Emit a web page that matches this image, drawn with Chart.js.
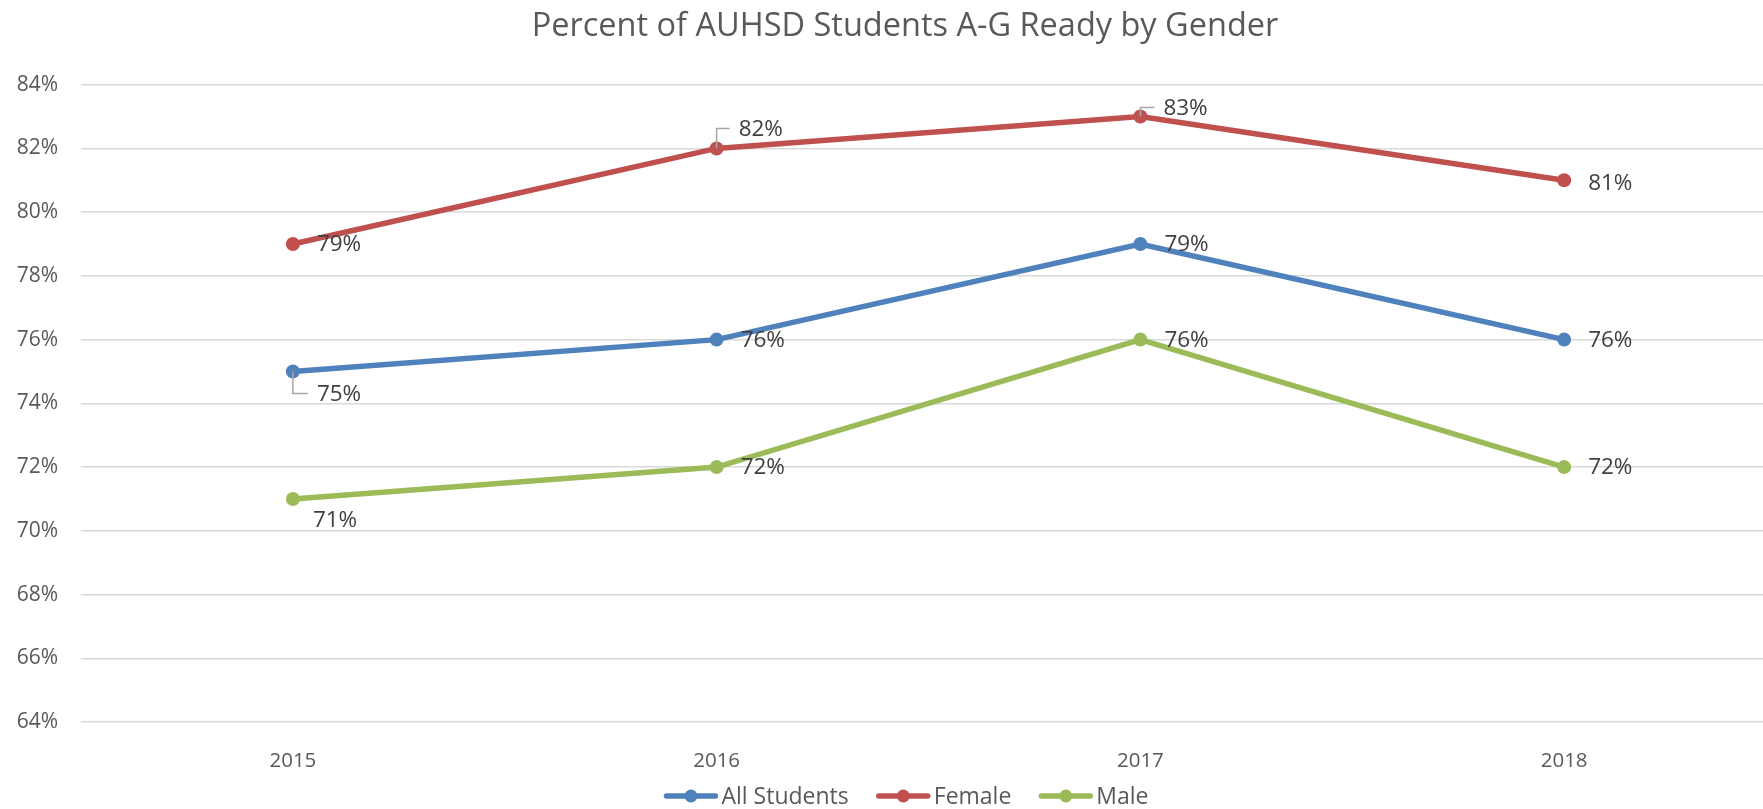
<!DOCTYPE html>
<html>
<head>
<meta charset="utf-8">
<title>Percent of AUHSD Students A-G Ready by Gender</title>
<script src="https://cdn.jsdelivr.net/npm/chart.js@4.4.1/dist/chart.umd.min.js"></script>
<style>
    html, body { margin: 0; padding: 0; background: #fff; overflow: hidden; }
    #wrap { width: 1810px; height: 809px; }
</style>
</head>
<body>
<div id="wrap"><canvas id="agChart" width="1810" height="809"></canvas></div>
<script>
// Chart data
const years = ['2015', '2016', '2017', '2018'];
const allStudents = [75, 76, 79, 76];
const female = [79, 82, 83, 81];
const male = [71, 72, 76, 72];
const yTicks = [64, 66, 68, 70, 72, 74, 76, 78, 80, 82, 84];
const chartTitle = 'Percent of AUHSD Students A-G Ready by Gender';

const FONT = '"Open Sans", "DejaVu Sans", sans-serif';
// the original Excel chart is a bit wider than the picture, so title and legend centre here
const CENTER_X = 905;

// Label left edge / vertical offset from its point (some dragged with leader lines, like in Excel)
const labelPlacement = [
    [{dx: 24, dy: 22, leader: true}, {dx: 24, dy: 0}, {dx: 24, dy: 0}, {dx: 24, dy: 0}],
    [{dx: 24, dy: 0}, {dx: 22, dy: -20, leader: true}, {dx: 23, dy: -9, leader: true}, {dx: 24, dy: 2}],
    [{dx: 20, dy: 21}, {dx: 24, dy: 0}, {dx: 24, dy: 0}, {dx: 24, dy: 0}]
];

const titlePlugin = {
    id: 'centerTitle',
    afterDraw(chart) {
        const ctx = chart.ctx;
        ctx.save();
        ctx.font = '32.5px ' + FONT;
        ctx.fillStyle = '#595959';
        ctx.textAlign = 'center';
        ctx.textBaseline = 'middle';
        ctx.fillText(chartTitle, CENTER_X, 26.5);
        ctx.restore();
    }
};

const dataLabels = {
    id: 'dataLabels',
    afterDatasetsDraw(chart) {
        const ctx = chart.ctx;
        ctx.save();
        ctx.font = '22.5px ' + FONT;
        ctx.textAlign = 'left';
        ctx.textBaseline = 'middle';
        chart.data.datasets.forEach((ds, di) => {
            const meta = chart.getDatasetMeta(di);
            meta.data.forEach((pt, i) => {
                const place = labelPlacement[di][i];
                const text = ds.data[i] + '%';
                const lx = pt.x + place.dx;
                const ly = pt.y + place.dy;
                if (place.leader) {
                    ctx.strokeStyle = '#a6a6a6';
                    ctx.lineWidth = 1.5;
                    ctx.beginPath();
                    ctx.moveTo(pt.x, pt.y);
                    ctx.lineTo(pt.x, ly);
                    ctx.lineTo(lx - 9, ly);
                    ctx.stroke();
                }
                ctx.fillStyle = '#404040';
                ctx.fillText(text, lx, ly + 1);
            });
        });
        ctx.restore();
    }
};

// Legend drawn like Excel: short line with a dot in the middle
const lineLegend = {
    id: 'lineLegend',
    afterDraw(chart) {
        const ctx = chart.ctx;
        const y = 796;
        const markW = 55, gapText = 3, gapItem = 27;
        ctx.save();
        ctx.font = '23px ' + FONT;
        ctx.textBaseline = 'middle';
        const items = chart.data.datasets.map(ds => ({
            label: ds.label,
            color: ds.borderColor,
            w: markW + gapText + ctx.measureText(ds.label).width
        }));
        const total = items.reduce((s, it) => s + it.w, 0) + gapItem * (items.length - 1);
        let x = CENTER_X + 1 - total / 2;
        items.forEach(it => {
            ctx.strokeStyle = it.color;
            ctx.lineWidth = 5.5;
            ctx.lineCap = 'round';
            ctx.beginPath();
            ctx.moveTo(x + 3, y);
            ctx.lineTo(x + markW - 3, y);
            ctx.stroke();
            ctx.fillStyle = it.color;
            ctx.beginPath();
            ctx.arc(x + markW / 2, y, 6.5, 0, Math.PI * 2);
            ctx.fill();
            ctx.fillStyle = '#595959';
            ctx.fillText(it.label, x + markW + gapText, y + 1);
            x += it.w + gapItem;
        });
        ctx.restore();
    }
};

function series(label, values, color) {
    return {
        label: label,
        data: values,
        borderColor: color,
        backgroundColor: color,
        borderWidth: 5.5,
        pointRadius: 7,
        pointHoverRadius: 7,
        pointBorderWidth: 0,
        pointBackgroundColor: color,
        tension: 0,
        fill: false
    };
}

document.addEventListener('DOMContentLoaded', function() {
    const ctx = document.getElementById('agChart');
    new Chart(ctx, {
        type: 'line',
        data: {
            labels: years,
            datasets: [
                series('All Students', allStudents, '#4f81bd'),
                series('Female', female, '#c0504d'),
                series('Male', male, '#9bbb59')
            ]
        },
        options: {
            responsive: false,
            animation: false,
            devicePixelRatio: 1,
            layout: { padding: { left: 0, right: 34, top: 84.7, bottom: 40 } },
            plugins: {
                legend: { display: false },
                tooltip: { enabled: false },
                title: { display: false }
            },
            scales: {
                x: {
                    offset: true,
                    grid: { display: false },
                    border: { display: false },
                    ticks: {
                        color: '#595959',
                        font: { family: FONT, size: 20.5 },
                        padding: 19,
                        maxRotation: 0
                    },
                    afterFit(scale) { scale.height = 47; }
                },
                y: {
                    min: 64,
                    max: 84,
                    grid: { color: '#d9d9d9', lineWidth: 1.5, drawTicks: false },
                    border: { display: false },
                    afterBuildTicks(scale) {
                        scale.ticks = yTicks.map(v => ({ value: v }));
                    },
                    ticks: {
                        color: '#595959',
                        font: { family: FONT, size: 21 },
                        padding: 23,
                        callback: v => v + '%'
                    },
                    afterFit(scale) { scale.width = 81; }
                }
            }
        },
        plugins: [dataLabels, lineLegend, titlePlugin]
    });
});
</script>
</body>
</html>
